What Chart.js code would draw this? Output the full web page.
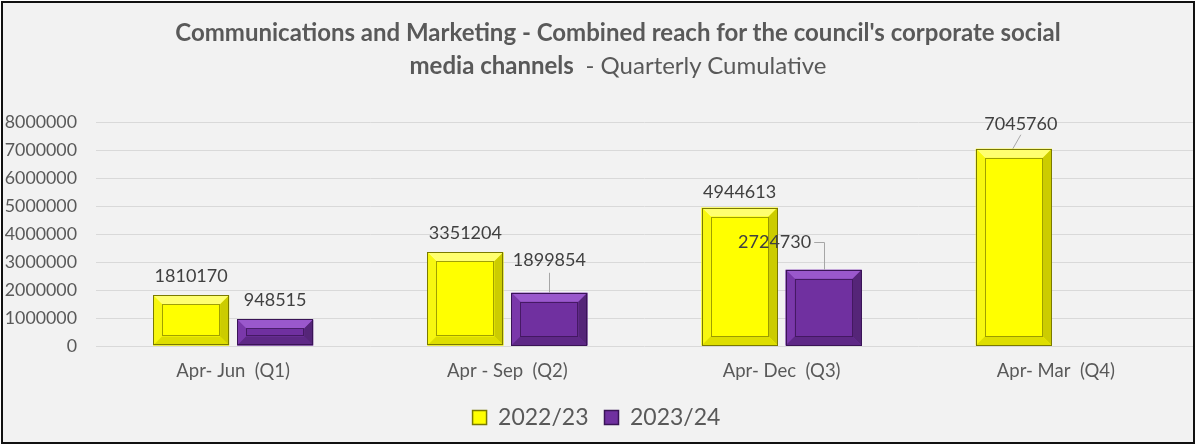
<!DOCTYPE html>
<html>
<head>
<meta charset="utf-8">
<script src="https://cdn.jsdelivr.net/npm/chart.js@4.4.1/dist/chart.umd.min.js"></script>
<style>
  html, body { margin: 0; padding: 0; background: #fff; }
  #frame {
    position: absolute; left: 1px; top: 1px; width: 1194px; height: 443px;
    box-sizing: border-box; border: 2px solid #111; background: #f2f2f2; overflow: hidden;
  }
  #title {
    position: absolute; left: 0; top: 12px; width: 1230px; text-align: center;
    font-family: Lato, "Noto Sans", sans-serif; font-size: 24px; line-height: 33px; color: #595959;
    font-weight: bold;
  }
  #title .thin { font-weight: normal; }
  canvas { position: absolute; left: -3px; top: -3px; }
</style>
</head>
<body>
<div id="frame">
  <canvas id="chart" width="1195" height="445"></canvas>
  <div id="title">Communications and Marketing - Combined reach for the council's corporate social<br>media channels&nbsp; <span class="thin">- Quarterly Cumulative</span></div>
</div>
<script>
// данные с картинки
const categories = ['Apr- Jun  (Q1)', 'Apr - Sep  (Q2)', 'Apr- Dec  (Q3)', 'Apr- Mar  (Q4)'];
const seriesNames = ['2022/23', '2023/24'];
const reach2022 = [1810170, 3351204, 4944613, 7045760];
const reach2023 = [948515, 1899854, 2724730, null];
const yTicks = [0, 1000000, 2000000, 3000000, 4000000, 5000000, 6000000, 7000000, 8000000];

const FONT = 'Lato, "Noto Sans", sans-serif';

// цвета баров и «фаски»
const looks = [
    { fill: '#ffff00', edge: '#7a7a00', top: '#ffff70', left: '#f7f710', right: '#cccc00', bottom: '#dede00', inner: 'rgba(120,120,0,0.7)' },
    { fill: '#7030a0', edge: '#3a1457', top: '#9a58cc', left: '#7a38aa', right: '#552578', bottom: '#5e2886', inner: 'rgba(55,18,80,0.75)' }
];

// сдвиг подписей [dx, dy] — как в Excel, где подписи вручную подвинуты
const labelShift = [
    [[0, 0], [0, 0], [0, 4], [7, -6]],
    [[0, 0], [0, -14], [-49, -9], [0, 0]]
];

const bevelPlugin = {
    id: 'bevel',
    afterDatasetsDraw(chart) {
        const ctx = chart.ctx;
        chart.data.datasets.forEach((ds, di) => {
            const lk = looks[di];
            chart.getDatasetMeta(di).data.forEach((bar, i) => {
                if (ds.data[i] == null) return;
                const l = bar.x - bar.width / 2, r = bar.x + bar.width / 2;
                const t = bar.y, b = bar.base;
                const bw = Math.min(9, (b - t) / 2.6);
                const poly = (pts, c) => {
                    ctx.beginPath();
                    ctx.moveTo(pts[0][0], pts[0][1]);
                    pts.slice(1).forEach(p => ctx.lineTo(p[0], p[1]));
                    ctx.closePath();
                    ctx.fillStyle = c;
                    ctx.fill();
                };
                ctx.save();
                poly([[l, t], [r, t], [r - bw, t + bw], [l + bw, t + bw]], lk.top);
                poly([[l, t], [l + bw, t + bw], [l + bw, b - bw], [l, b]], lk.left);
                poly([[r, t], [r, b], [r - bw, b - bw], [r - bw, t + bw]], lk.right);
                poly([[l, b], [r, b], [r - bw, b - bw], [l + bw, b - bw]], lk.bottom);
                ctx.strokeStyle = lk.inner;
                ctx.lineWidth = 1;
                ctx.strokeRect(Math.round(l + bw) + 0.5, Math.round(t + bw) + 0.5, Math.round(r - l - 2 * bw) - 1, Math.round(b - t - 2 * bw) - 1);
                ctx.strokeStyle = lk.edge;
                ctx.strokeRect(Math.round(l) + 0.5, Math.round(t) + 0.5, Math.round(r - l) - 1, Math.round(b - t) - 1);
                ctx.restore();
            });
        });
    }
};

const labelPlugin = {
    id: 'valueLabels',
    afterDatasetsDraw(chart) {
        const ctx = chart.ctx;
        ctx.save();
        ctx.font = '18px ' + FONT;
        ctx.textAlign = 'center';
        ctx.textBaseline = 'middle';
        chart.data.datasets.forEach((ds, di) => {
            chart.getDatasetMeta(di).data.forEach((bar, i) => {
                const v = ds.data[i];
                if (v == null) return;
                const [dx, dy] = labelShift[di][i];
                const lx = bar.x + dx, ly = bar.y - 19 + dy;
                const txt = String(v);
                // выноска, если подпись сдвинута
                if (dx !== 0 || dy < 0) {
                    ctx.strokeStyle = '#a6a6a6';
                    ctx.lineWidth = 1;
                    ctx.beginPath();
                    if (dx < 0) {
                        const w = ctx.measureText(txt).width;
                        ctx.moveTo(lx + w / 2 + 3, Math.round(ly) + 0.5);
                        ctx.lineTo(Math.round(bar.x) + 0.5, Math.round(ly) + 0.5);
                        ctx.lineTo(Math.round(bar.x) + 0.5, bar.y);
                    } else if (dx > 0) {
                        ctx.moveTo(lx, ly + 11);
                        ctx.lineTo(bar.x - 1, bar.y);
                    } else {
                        ctx.moveTo(Math.round(bar.x) + 0.5, ly + 13);
                        ctx.lineTo(Math.round(bar.x) + 0.5, bar.y);
                    }
                    ctx.stroke();
                }
                ctx.fillStyle = '#404040';
                ctx.fillText(txt, lx, ly);
            });
        });
        ctx.restore();
    }
};

const ctx = document.getElementById('chart').getContext('2d');
const chart = new Chart(ctx, {
    type: 'bar',
    data: {
        labels: categories,
        datasets: [
            {
                label: seriesNames[0],
                data: reach2022,
                backgroundColor: looks[0].fill,
                borderWidth: 0,
                categoryPercentage: 0.613,
                barPercentage: 0.905
            },
            {
                label: seriesNames[1],
                data: reach2023,
                backgroundColor: looks[1].fill,
                borderWidth: 0,
                categoryPercentage: 0.613,
                barPercentage: 0.905
            }
        ]
    },
    options: {
        responsive: false,
        animation: false,
        layout: { padding: { top: 122, right: 2, bottom: 6, left: 0 } },
        plugins: {
            title: { display: false },
            tooltip: { enabled: false },
            legend: {
                position: 'bottom',
                labels: {
                    color: '#595959',
                    font: { family: FONT, size: 23 },
                    boxWidth: 14,
                    boxHeight: 14,
                    padding: 16,
                    generateLabels(ch) {
                        return ch.data.datasets.map((ds, i) => ({
                            text: ds.label,
                            fillStyle: looks[i].fill,
                            strokeStyle: looks[i].edge,
                            lineWidth: 1.5,
                            fontColor: '#595959',
                            datasetIndex: i
                        }));
                    }
                }
            }
        },
        scales: {
            x: {
                grid: { display: false, drawTicks: false },
                border: { display: false },
                ticks: { color: '#595959', font: { family: FONT, size: 18.5 }, padding: 14 },
                afterFit(scale) { scale.height = 44; }
            },
            y: {
                min: 0,
                max: 8000000,
                afterBuildTicks(scale) { scale.ticks = yTicks.map(v => ({ value: v })); },
                grid: { color: '#d9d9d9', lineWidth: 1, drawTicks: false },
                border: { display: false },
                ticks: {
                    color: '#595959',
                    font: { family: FONT, size: 17.8 },
                    padding: 19,
                    callback: v => String(v)
                },
                afterFit(scale) { scale.width = 96; }
            }
        }
    },
    plugins: [bevelPlugin, labelPlugin]
});
</script>
</body>
</html>
